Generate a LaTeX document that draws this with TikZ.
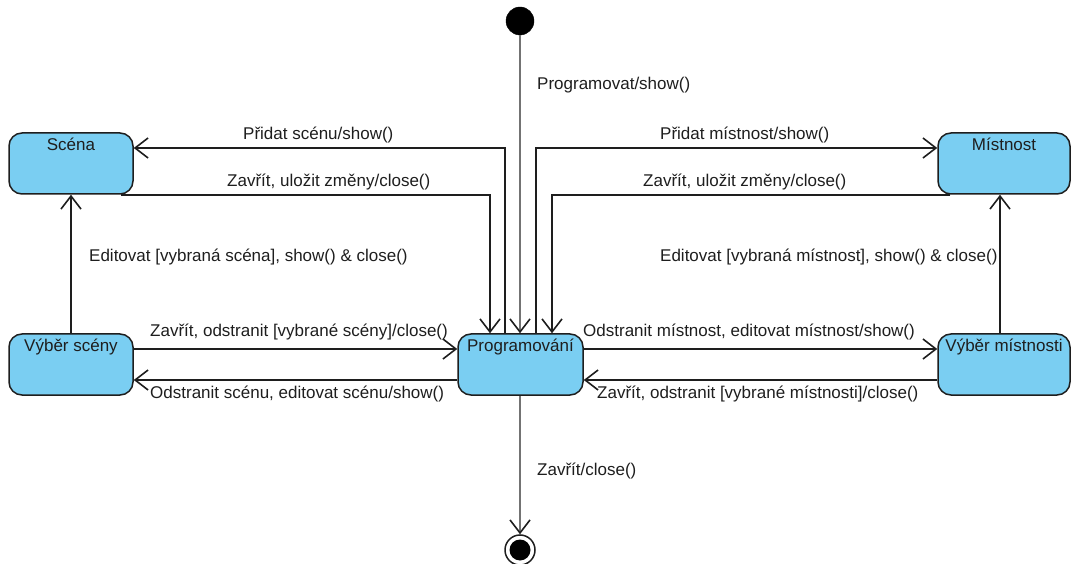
\documentclass[tikz,border=0pt]{standalone}
\usepackage{fontspec}
\setmainfont{Liberation Sans}
\usetikzlibrary{arrows.meta}
\definecolor{boxfill}{RGB}{122,206,242}
\definecolor{ink}{RGB}{30,30,30}
\definecolor{grayline}{RGB}{115,115,115}
\begin{document}
\begin{tikzpicture}[x=1pt,y=-1pt,
  every node/.style={font=\fontsize{17}{20}\selectfont, text=ink},
  state/.style={draw=ink, line width=1.5pt, fill=boxfill, rounded corners=13pt,
    minimum height=61pt, inner xsep=2pt, inner ysep=0pt, text height=12.5pt, text depth=37.5pt},
  pseudo/.style={circle, fill=black, draw=black, minimum size=28pt, inner sep=0pt},
  finst/.style={circle, draw=ink, fill=white, line width=1.5pt, minimum size=30pt, inner sep=0pt,
    path picture={\fill[black] (path picture bounding box.center) circle (10.5pt);}},
  arr/.style={draw=ink, line width=1.6pt, -{Straight Barb[length=13pt,width=20pt,color=ink]}},
  garr/.style={draw=grayline, line width=1.6pt, -{Straight Barb[length=13pt,width=20pt,color=ink]}},
  lbl/.style={anchor=base west, inner sep=0pt}
]
\useasboundingbox (0,0) rectangle (1072,564);

% states
\node[state, minimum width=124pt] (scena)  at (71,163.5)    {Scéna};
\node[state, minimum width=132pt] (mist)   at (1004,163.5)  {Místnost};
\node[state, minimum width=124pt] (vscena) at (71,364.5)    {Výběr scény};
\node[state, minimum width=125pt] (prog)   at (520.5,364.5) {Programování};
\node[state, minimum width=132pt] (vmist)  at (1004,364.5)  {Výběr místnosti};
\node[pseudo] (init) at (520,21) {};
\node[finst]  (fin)  at (520,550) {};

% transitions
\draw[garr] (init.south) -- (init.south |- prog.north);
\draw[arr] ([xshift=-15.5pt]prog.north) |- ([yshift=15.5pt]scena.east);
\draw[arr] ([xshift=-13pt]scena.south east) -| ([xshift=-30.5pt]prog.north);
\draw[arr] ([xshift=15.5pt]prog.north) |- ([yshift=15.5pt]mist.west);
\draw[arr] ([xshift=13pt]mist.south west) -| ([xshift=31.5pt]prog.north);
\draw[arr] (vscena.north) -- (scena.south);
\draw[arr] ([xshift=-4pt]vmist.north) -- ([xshift=-4pt]mist.south);
\draw[arr] ([yshift=15.5pt]vscena.east) -- ([yshift=15.5pt]prog.west);
\draw[arr] ([yshift=-15.5pt]prog.west) -- ([yshift=-15.5pt]vscena.east);
\draw[arr] ([yshift=15.5pt]prog.east) -- ([yshift=15.5pt]vmist.west);
\draw[arr] ([yshift=-15.5pt]vmist.west) -- ([yshift=-15.5pt]prog.east);
\draw[garr] (fin.north |- prog.south) -- (fin.north);

% labels
\node[lbl] (l1)  at (537,90)  {Programovat/show()};
\node[lbl] (l2)  at (243,140) {Přidat scénu/show()};
\node[lbl] (l3)  at (227,187) {Zavřít, uložit změny/close()};
\node[lbl] (l4)  at (89,262)  {Editovat [vybraná scéna], show() \& close()};
\node[lbl] (l5)  at (150,337) {Zavřít, odstranit [vybrané scény]/close()};
\node[lbl] (l6)  at (150,399) {Odstranit scénu, editovat scénu/show()};
\node[lbl] (l7)  at (660,140) {Přidat místnost/show()};
\node[lbl] (l8)  at (643,187) {Zavřít, uložit změny/close()};
\node[lbl] (l9)  at (660,262) {Editovat [vybraná místnost], show() \& close()};
\node[lbl] (l10) at (583,337) {Odstranit místnost, editovat místnost/show()};
\node[lbl] (l11) at (597,399) {Zavřít, odstranit [vybrané místnosti]/close()};
\node[lbl] (l12) at (537,475) {Zavřít/close()};
\end{tikzpicture}
\end{document}
